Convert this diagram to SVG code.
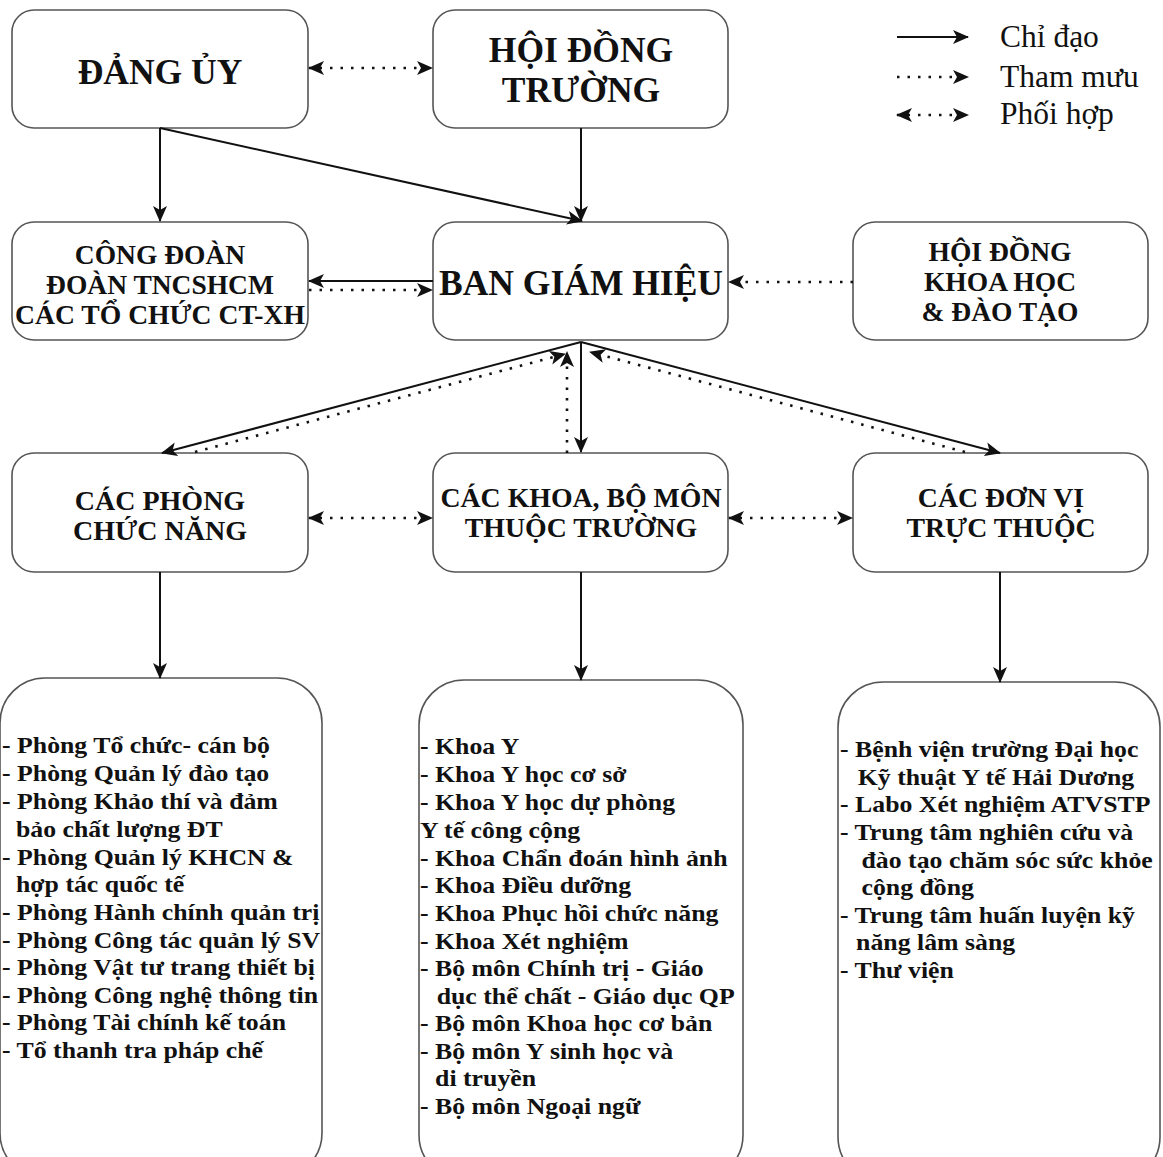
<svg xmlns="http://www.w3.org/2000/svg" width="1163" height="1157" viewBox="0 0 1163 1157">
<defs>
<marker id="ah" markerUnits="userSpaceOnUse" markerWidth="16" markerHeight="14" refX="15" refY="7" orient="auto-start-reverse" viewBox="0 0 16 14">
<path d="M0,0 L16,7 L0,14 L4,7 Z" fill="#111"/>
</marker>
</defs>
<style>
.box{fill:#fff;stroke:#555;stroke-width:1.6}
.t{font-family:'Liberation Serif','Times New Roman',serif;font-weight:bold;fill:#111;text-anchor:middle}
.l{font-family:'Liberation Serif','Times New Roman',serif;font-weight:bold;fill:#111;font-size:24px}
.lg{font-family:'Liberation Serif','Times New Roman',serif;fill:#111;font-size:31.5px}
.s{stroke:#111;stroke-width:2;fill:none}
.d{stroke:#111;stroke-width:2.6;fill:none;stroke-dasharray:2.5 8}
</style>
<rect width="1163" height="1157" fill="#fff"/>

<g id="node-dang-uy"><rect class="box" x="12" y="10" width="296" height="118" rx="22"/><text class="t" x="160" y="84" font-size="35.5">ĐẢNG ỦY</text></g>
<g id="node-hoi-dong-truong"><rect class="box" x="433" y="10" width="295" height="118" rx="22"/><text class="t" x="581" y="62" font-size="35.5">HỘI ĐỒNG</text><text class="t" x="581" y="102" font-size="35.5">TRƯỜNG</text></g>
<g id="node-cong-doan"><rect class="box" x="12" y="222" width="296" height="118" rx="22"/><text class="t" x="160" y="264" font-size="27.5">CÔNG ĐOÀN</text><text class="t" x="160" y="294" font-size="27.5">ĐOÀN TNCSHCM</text><text class="t" x="160" y="324" font-size="27.5" textLength="290" lengthAdjust="spacingAndGlyphs">CÁC TỔ CHỨC CT-XH</text></g>
<g id="node-ban-giam-hieu"><rect class="box" x="433" y="222" width="295" height="118" rx="22"/><text class="t" x="581" y="295" font-size="35.5">BAN GIÁM HIỆU</text></g>
<g id="node-hd-khoa-hoc"><rect class="box" x="853" y="222" width="295" height="118" rx="22"/><text class="t" x="1000" y="261" font-size="27.5">HỘI ĐỒNG</text><text class="t" x="1000" y="291" font-size="27.5">KHOA HỌC</text><text class="t" x="1000" y="321" font-size="27.5">&amp; ĐÀO TẠO</text></g>
<g id="node-cac-phong"><rect class="box" x="12" y="453" width="296" height="119" rx="22"/><text class="t" x="160" y="510" font-size="28">CÁC PHÒNG</text><text class="t" x="160" y="540" font-size="28">CHỨC NĂNG</text></g>
<g id="node-cac-khoa"><rect class="box" x="433" y="453" width="295" height="119" rx="22"/><text class="t" x="581" y="507" font-size="27.8">CÁC KHOA, BỘ MÔN</text><text class="t" x="581" y="537" font-size="27.8">THUỘC TRƯỜNG</text></g>
<g id="node-cac-don-vi"><rect class="box" x="853" y="453" width="295" height="119" rx="22"/><text class="t" x="1001" y="507" font-size="27.8">CÁC ĐƠN VỊ</text><text class="t" x="1001" y="537" font-size="27.8">TRỰC THUỘC</text></g>

<g id="node-list-phong"><rect class="box" x="0" y="678" width="322" height="500" rx="45"/>
<g transform="translate(2,0) scale(1.075,1)">
<text class="l" x="0" y="753">- Phòng Tổ chức- cán bộ</text>
<text class="l" x="0" y="781">- Phòng Quản lý đào tạo</text>
<text class="l" x="0" y="809">- Phòng Khảo thí và đảm</text>
<text class="l" x="13" y="837">bảo chất lượng ĐT</text>
<text class="l" x="0" y="865">- Phòng Quản lý KHCN &amp;</text>
<text class="l" x="13" y="892">hợp tác quốc tế</text>
<text class="l" x="0" y="920">- Phòng Hành chính quản trị</text>
<text class="l" x="0" y="948">- Phòng Công tác quản lý SV</text>
<text class="l" x="0" y="975">- Phòng Vật tư trang thiết bị</text>
<text class="l" x="0" y="1003">- Phòng Công nghệ thông tin</text>
<text class="l" x="0" y="1030">- Phòng Tài chính kế toán</text>
<text class="l" x="0" y="1058">- Tổ thanh tra pháp chế</text>
</g></g>
<g id="node-list-khoa"><rect class="box" x="419" y="680" width="324" height="500" rx="45"/>
<g transform="translate(420,0) scale(1.075,1)">
<text class="l" x="0" y="754">- Khoa Y</text>
<text class="l" x="0" y="782">- Khoa Y học cơ sở</text>
<text class="l" x="0" y="810">- Khoa Y học dự phòng</text>
<text class="l" x="0" y="838">Y tế công cộng</text>
<text class="l" x="0" y="866">- Khoa Chẩn đoán hình ảnh</text>
<text class="l" x="0" y="893">- Khoa Điều dưỡng</text>
<text class="l" x="0" y="921">- Khoa Phục hồi chức năng</text>
<text class="l" x="0" y="949">- Khoa Xét nghiệm</text>
<text class="l" x="0" y="976">- Bộ môn Chính trị - Giáo</text>
<text class="l" x="15.5" y="1004">dục thể chất - Giáo dục QP</text>
<text class="l" x="0" y="1031">- Bộ môn Khoa học cơ bản</text>
<text class="l" x="0" y="1059">- Bộ môn Y sinh học và</text>
<text class="l" x="14" y="1086">di truyền</text>
<text class="l" x="0" y="1114">- Bộ môn Ngoại ngữ</text>
</g></g>
<g id="node-list-don-vi"><rect class="box" x="838" y="682" width="322" height="500" rx="45"/>
<g transform="translate(840,0) scale(1.075,1)">
<text class="l" x="0" y="757">- Bệnh viện trường Đại học</text>
<text class="l" x="16.5" y="785">Kỹ thuật Y tế Hải Dương</text>
<text class="l" x="0" y="812">- Labo Xét nghiệm ATVSTP</text>
<text class="l" x="0" y="840">- Trung tâm nghiên cứu và</text>
<text class="l" x="20" y="868">đào tạo chăm sóc sức khỏe</text>
<text class="l" x="20" y="895">cộng đồng</text>
<text class="l" x="0" y="923">- Trung tâm huấn luyện kỹ</text>
<text class="l" x="15" y="950">năng lâm sàng</text>
<text class="l" x="0" y="978">- Thư viện</text>
</g></g>

<g id="connectors">
<line class="d" x1="309" y1="68" x2="432" y2="68" marker-start="url(#ah)" marker-end="url(#ah)"/>
<line class="s" x1="160" y1="128" x2="160" y2="221" marker-end="url(#ah)"/>
<line class="s" x1="160" y1="128" x2="582" y2="221" marker-end="url(#ah)"/>
<line class="s" x1="581" y1="128" x2="581" y2="221" marker-end="url(#ah)"/>
<line class="s" x1="433" y1="281" x2="309" y2="281" marker-end="url(#ah)"/>
<line class="d" x1="309" y1="290" x2="432" y2="290" marker-end="url(#ah)"/>
<line class="d" x1="853" y1="282" x2="729" y2="282" marker-end="url(#ah)"/>
<line class="s" x1="581" y1="342" x2="162" y2="453" marker-end="url(#ah)"/>
<line class="d" x1="195" y1="452" x2="565" y2="354" marker-end="url(#ah)"/>
<line class="d" x1="567" y1="453" x2="567" y2="352" marker-end="url(#ah)"/>
<line class="s" x1="581" y1="342" x2="581" y2="452" marker-end="url(#ah)"/>
<line class="s" x1="581" y1="342" x2="1000" y2="453" marker-end="url(#ah)"/>
<line class="d" x1="965" y1="452" x2="590" y2="352" marker-end="url(#ah)"/>
<line class="d" x1="309" y1="518" x2="432" y2="518" marker-start="url(#ah)" marker-end="url(#ah)"/>
<line class="d" x1="729" y1="518" x2="852" y2="518" marker-start="url(#ah)" marker-end="url(#ah)"/>
<line class="s" x1="160" y1="572" x2="160" y2="678" marker-end="url(#ah)"/>
<line class="s" x1="581" y1="572" x2="581" y2="680" marker-end="url(#ah)"/>
<line class="s" x1="1000" y1="572" x2="1000" y2="682" marker-end="url(#ah)"/>
</g>

<g id="legend">
<line class="s" x1="897" y1="37" x2="968" y2="37" marker-end="url(#ah)"/>
<text class="lg" x="1000" y="47">Chỉ đạo</text>
<line class="d" x1="897" y1="77" x2="968" y2="77" marker-end="url(#ah)"/>
<text class="lg" x="1000" y="87">Tham mưu</text>
<line class="d" x1="897" y1="115" x2="968" y2="115" marker-start="url(#ah)" marker-end="url(#ah)"/>
<text class="lg" x="1000" y="124">Phối hợp</text>
</g>
</svg>
